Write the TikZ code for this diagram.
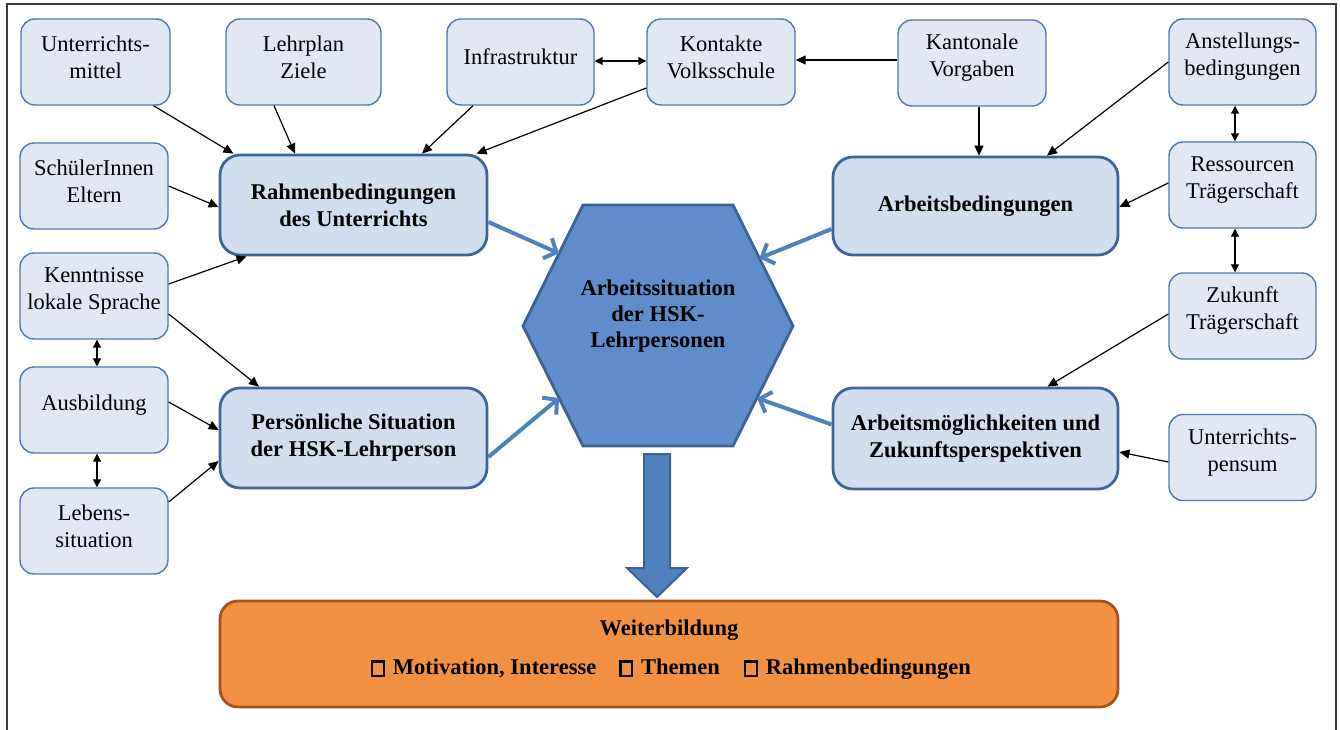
\documentclass[tikz,border=0pt]{standalone}
\usepackage{fontspec}
\setmainfont{Liberation Serif}
\usetikzlibrary{arrows.meta,calc}
\definecolor{sfill}{HTML}{E1E8F3}
\definecolor{sdraw}{HTML}{4E78AE}
\definecolor{mfill}{HTML}{D0DEEF}
\definecolor{mdraw}{HTML}{3F6598}
\definecolor{hfill}{HTML}{5E8DCA}
\definecolor{hdraw}{HTML}{3C6294}
\definecolor{bluearr}{HTML}{4F81BD}
\definecolor{ofill}{HTML}{F39142}
\definecolor{odraw}{HTML}{A5531A}
\definecolor{framec}{HTML}{3A3A3A}
\newcommand{\chk}{{\setlength{\fboxsep}{0pt}\setlength{\fboxrule}{2.2pt}\raisebox{-0.5pt}{\fbox{\rule{0pt}{12pt}\rule{9.5pt}{0pt}}}}}
\begin{document}
\begin{tikzpicture}[x=1pt,y=-1pt,
 sbox/.style={draw=sdraw, line width=1.4pt, fill=sfill, rounded corners=14pt, minimum width=148pt, minimum height=86pt, inner sep=0pt},
 mbox/.style={draw=mdraw, line width=2.8pt, fill=mfill, rounded corners=20pt, inner sep=0pt, align=center, font=\fontsize{22.5}{27}\selectfont\bfseries},
 stxt/.style={align=center, inner sep=0pt, font=\fontsize{22.5}{27}\selectfont},
 btxt/.style={align=center, inner sep=0pt, font=\fontsize{22.5}{26}\selectfont\bfseries},
 con/.style={line width=1.2pt, -{Triangle[length=10pt,width=9pt]}},
 dcon/.style={line width=1.2pt, {Triangle[length=8pt,width=8pt]}-{Triangle[length=8pt,width=8pt]}},
 barr/.style={draw=bluearr, line width=4pt, -{Straight Barb[length=10pt,width=22pt]}}]
\useasboundingbox (0,0) rectangle (1340,730);
\draw[draw=framec, line width=2pt] (7,740) -- (7,4) -- (1336,4) -- (1336,740);

% small boxes
\node[sbox, minimum width=149pt] (um) at (95.5,62) {};
\node[sbox, minimum width=155pt] (lz) at (303.5,62) {};
\node[sbox, minimum width=147pt] (inf) at (520.5,62) {};
\node[sbox] (kv) at (721,62) {};
\node[sbox] (kan) at (972,63) {};
\node[sbox, minimum width=147pt] (ans) at (1242.5,62) {};
\node[sbox, minimum width=147pt] (res) at (1242.5,185) {};
\node[sbox, minimum width=147pt] (zuk) at (1242.5,316) {};
\node[sbox, minimum width=147pt] (pen) at (1242.5,457.5) {};
\node[sbox] (sch) at (94,186) {};
\node[sbox] (ken) at (94,296) {};
\node[sbox] (aus) at (94,410) {};
\node[sbox] (leb) at (94,531) {};

\node[stxt] (um-t) at ([yshift=5pt]um.center) {Unterrichts-\\mittel};
\node[stxt] (lz-t) at ([yshift=5pt]lz.center) {Lehrplan\\Ziele};
\node[stxt] (inf-t) at ([yshift=5pt]inf.center) {Infrastruktur};
\node[stxt] (kv-t) at ([yshift=5pt]kv.center) {Kontakte\\Volksschule};
\node[stxt] (kan-t) at ([yshift=5pt]kan.center) {Kantonale\\Vorgaben};
\node[stxt] (ans-t) at ([yshift=5pt]ans.center) {Anstellungs-\\bedingungen};
\node[stxt] (res-t) at ([yshift=5pt]res.center) {Ressourcen\\Trägerschaft};
\node[stxt] (zuk-t) at ([yshift=5pt]zuk.center) {Zukunft\\Trägerschaft};
\node[stxt] (pen-t) at ([yshift=5pt]pen.center) {Unterrichts-\\pensum};
\node[stxt] (sch-t) at ([yshift=5pt]sch.center) {SchülerInnen\\Eltern};
\node[stxt] (ken-t) at ([yshift=5pt]ken.center) {Kenntnisse\\lokale Sprache};
\node[stxt] (aus-t) at ([yshift=5pt]aus.center) {Ausbildung};
\node[stxt] (leb-t) at ([yshift=5pt]leb.center) {Lebens-\\situation};

% main boxes
\node[mbox, minimum width=267pt, minimum height=100pt] (rb) at (353.5,205) {Rahmenbedingungen\\des Unterrichts};
\node[mbox, minimum width=267pt, minimum height=100pt] (ps) at (353.5,438) {Persönliche Situation\\der HSK-Lehrperson};
\node[mbox, minimum width=285pt, minimum height=98pt] (ab) at (975.5,206) {Arbeitsbedingungen};
\node[mbox, minimum width=285pt, minimum height=101pt] (am) at (975.5,438.5) {Arbeitsmöglichkeiten und\\Zukunftsperspektiven};

% hexagon
\coordinate (h1) at (583,205);
\coordinate (h2) at (733,205);
\coordinate (h3) at (793,326);
\coordinate (h4) at (733,446);
\coordinate (h5) at (583,446);
\coordinate (h6) at (523,326);
\draw[draw=hdraw, fill=hfill, line width=2.8pt, line join=miter] (h1) -- (h2) -- (h3) -- (h4) -- (h5) -- (h6) -- cycle;
\node[btxt] (hex) at (658,316) {Arbeitssituation\\der HSK-\\Lehrpersonen};

% blue arrows
\draw[barr] ($(rb.east)+(0,17)$) -- ($(h1)!0.4!(h6)$);
\draw[barr] ($(ab.west)+(0,23)$) -- ($(h2)!0.44!(h3)$);
\draw[barr] ($(ps.east)+(0,19)$) -- ($(h6)!0.6!(h5)$);
\draw[barr] ($(am.west)+(0,-14)$) -- ($(h3)!0.6!(h4)$);

% orange box
\node[draw=odraw, fill=ofill, line width=2.8pt, rounded corners=18pt, minimum width=898pt, minimum height=106pt, inner sep=0pt] (wb) at (669,654) {};
\node[btxt] (wb-t1) at (669,630) {Weiterbildung};
\node[btxt, anchor=base] (wb-t2) at (671,674) {\chk\hspace{8pt}Motivation, Interesse\hspace{23pt}\chk\hspace{8pt}Themen\hspace{24pt}\chk\hspace{8pt}Rahmenbedingungen};

% big arrow
\draw[draw=hdraw, fill=bluearr, line width=2pt, line join=miter] (644,454) -- (670,454) -- (670,568) -- (687,568) -- (657,597) -- (627,568) -- (644,568) -- cycle;

% thin connectors
\draw[con] ($(um.south)+(58,0)$) -- ($(rb.north)+(-120,0)$);
\draw[con] ($(lz.south)+(-29.5,0)$) -- ($(rb.north)+(-58.5,0)$);
\draw[con] ($(inf.south)+(-47.5,0)$) -- ($(rb.north)+(68.5,0)$);
\draw[con] ($(kv.west)+(0,26)$) -- ($(rb.north)+(123,0)$);
\draw[dcon] ($(inf.east)+(0,-1)$) -- ($(kv.west)+(0,-1)$);
\draw[con] ($(kan.west)+(0,-3)$) -- ($(kv.east)+(0,-2)$);
\draw[con] ($(kan.south)+(7,0)$) -- ($(ab.north)+(3.5,0)$);
\draw[con] (ans.west) -- ($(ab.north)+(71.5,0)$);
\draw[dcon] ($(ans.south)+(-7.5,0)$) -- ($(res.north)+(-7.5,0)$);
\draw[con] ($(res.west)+(0,-2)$) -- ($(ab.east)+(0,1)$);
\draw[dcon] ($(res.south)+(-7.5,0)$) -- ($(zuk.north)+(-7.5,0)$);
\draw[con] ($(zuk.west)+(0,-2)$) -- ($(am.north)+(72,0)$);
\draw[con] ($(pen.west)+(0,4.5)$) -- ($(am.east)+(0,13.5)$);
\draw[con] (sch.east) -- ($(rb.west)+(0,2)$);
\draw[con] ($(ken.east)+(0,-12)$) -- ($(rb.south)+(-107,0)$);
\draw[con] ($(ken.east)+(0,18)$) -- ($(ps.north)+(-94.5,0)$);
\draw[dcon] ($(ken.south)+(3,0)$) -- ($(aus.north)+(3,0)$);
\draw[con] ($(aus.east)+(0,-8)$) -- ($(ps.west)+(0,-8)$);
\draw[dcon] ($(aus.south)+(3,0)$) -- ($(leb.north)+(3,0)$);
\draw[con] ($(leb.east)+(0,-29)$) -- ($(ps.west)+(0,23)$);
\end{tikzpicture}
\end{document}
